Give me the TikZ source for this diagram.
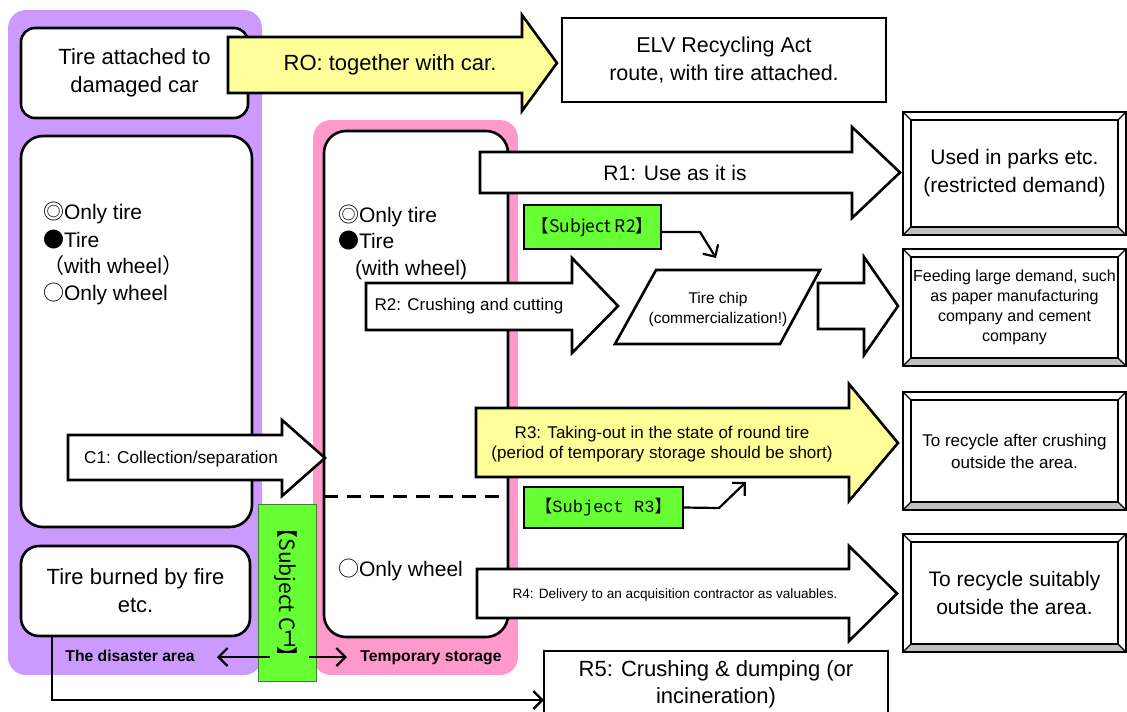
\documentclass[tikz,border=0pt]{standalone}
\usepackage{fontspec}
\usepackage{graphicx}
\setmainfont{Liberation Sans}
\newfontfamily\cjk{Noto Sans CJK JP}
\newfontfamily\monofont{Liberation Mono}
\usetikzlibrary{arrows.meta}
\definecolor{areapurple}{HTML}{CC99FF}
\definecolor{storepink}{HTML}{FF99CC}
\definecolor{subjgreen}{HTML}{66FF33}
\definecolor{subjedge}{HTML}{3F7F2F}
\definecolor{routeyellow}{HTML}{FFFF99}
\definecolor{bevelgray}{HTML}{C0C0C0}
\newcommand\ff[2]{\fontsize{#1}{#2}\selectfont}
% framed destination box with a bevelled border: name, x1, y1, x2, y2, font, text
\newcommand\bevelbox[7]{%
  \fill[white] (#2,#3) rectangle (#4,#5);
  \fill[bevelgray] (#2,#5) -- (#4,#5) -- ({#4-8},{#5-8}) -- ({#2+8},{#5-8}) -- cycle;
  \draw[line width=1.2pt] (#2,#3) -- ({#2+8},{#3+8}) (#4,#3) -- ({#4-8},{#3+8})
        (#2,#5) -- ({#2+8},{#5-8}) (#4,#5) -- ({#4-8},{#5-8});
  \draw[line width=2.6pt] ({#2+8},{#3+8}) rectangle ({#4-8},{#5-8});
  \draw[line width=2.6pt] (#2,#3) rectangle (#4,#5);
  \node[align=center, font=#6] (#1) at ({(#2+#4)/2},{(#3+#5)/2}) {#7};}
\begin{document}
\begin{tikzpicture}[x=1pt,y=-1pt,
  every node/.style={inner sep=0pt, outer sep=0pt},
  itembox/.style={draw, line width=2.6pt, fill=white},
  blockarrow/.style={draw, line width=2.6pt, line join=miter, miter limit=10},
  subjbox/.style={draw, line width=2.6pt, fill=subjgreen},
  thinarrow/.style={line width=2.2pt, -{Straight Barb[length=9pt,width=18pt,line width=2.2pt]}},
  arealabel/.style={font=\bfseries\ff{15.7}{18}},
  listitem/.style={anchor=base west, font=\ff{21}{26}}]
\useasboundingbox (0,0) rectangle (1127,712);

% the two areas
\fill[areapurple, rounded corners=18pt] (8,10) rectangle (262,675);
\fill[storepink, rounded corners=18pt] (313,120) rectangle (518,675);

% boxes of the disaster area
\node[itembox, rounded corners=14pt, minimum width=227pt, minimum height=90pt,
      align=center, font=\ff{22}{28}] (attached) at (134.5,73) {Tire attached to\\damaged car};
\node[itembox, rounded corners=22pt, minimum width=231pt, minimum height=391pt] (sorted) at (136.5,331.5) {};
\node[itembox, rounded corners=18pt, minimum width=229pt, minimum height=90pt,
      align=center, font=\ff{22}{28}] (burned) at (135.5,591) {Tire burned by fire\\etc.};

\node[listitem] (la) at (43,219.5) {{\cjk ◎}Only tire};
\node[listitem] (lb) at (43,247.5) {{\cjk ●}Tire};
\node[listitem] (lc) at (43,273.5) {{\cjk （}with wheel{\cjk ）}};
\node[listitem] (ld) at (43,300.5) {{\cjk ○}Only wheel};

% temporary storage box
\node[itembox, rounded corners=22pt, minimum width=184pt, minimum height=506pt] (store) at (416,384) {};
\draw[line width=3pt, dash pattern=on 14pt off 9pt] (store.west |- 0,496) -- (505,496);
\node[listitem] (pa) at (338,222.5) {{\cjk ◎}Only tire};
\node[listitem] (pb) at (338,248.5) {{\cjk ●}Tire};
\node[listitem] (pc) at (355,275.5) {(with wheel)};
\node[listitem] (pd) at (338,576.5) {{\cjk ○}Only wheel};

% RO route
\draw[blockarrow, fill=routeyellow] (228,37) -- (522,37) -- (522,15) -- (557,63) -- (522,111) -- (522,93) -- (228,93) -- cycle;
\node[font=\ff{22}{28}] (ro) at (390,65) {RO: together with car.};
\node[itembox, minimum width=324pt, minimum height=84pt, align=center, font=\ff{21.5}{28}] (elv) at (724,60) {ELV Recycling Act\\route, with tire attached.};

% R1
\draw[blockarrow, fill=white] (480,152) -- (852,152) -- (852,127) -- (900,172.5) -- (852,218) -- (852,193) -- (480,193) -- cycle;
\node[font=\ff{21}{26}] (r1) at (675,172.5) {R1: Use as it is};
\bevelbox{parks}{903}{112}{1126}{235}{\ff{21}{28}}{Used in parks etc.\\(restricted demand)}

% R2
\draw[blockarrow, fill=white] (366,283) -- (572,283) -- (572,258) -- (618,306) -- (572,353) -- (572,330) -- (366,330) -- cycle;
\node[font=\ff{17}{20}] (r2) at (469,306.5) {R2: Crushing and cutting};
\draw[line width=2.6pt, line join=miter, fill=white] (656,270) -- (820,270) -- (780,344) -- (615,344) -- cycle;
\node[align=center, font=\ff{15.5}{20}] (chip) at (718,309) {Tire chip\\(commercialization!)};
\draw[blockarrow, fill=white] (818,283) -- (864,283) -- (864,257) -- (898,306) -- (864,355) -- (864,329) -- (818,329) -- cycle;
\bevelbox{feed}{903}{249}{1126}{366}{\ff{16}{20}}{Feeding large demand, such\\as paper manufacturing\\company and cement\\company}

\node[subjbox, minimum width=137pt, minimum height=44pt, font=\cjk\ff{17.5}{20}] (subjR2) at (592.5,227) {【Subject R2】};
\coordinate (r2bend) at (700,232);
\coordinate (r2tip) at (716,258);
\draw[thinarrow, line join=miter] ([yshift=-5pt]subjR2.east) -- (r2bend) -- (r2tip);

% R3
\draw[blockarrow, fill=routeyellow] (476,408) -- (849,408) -- (849,384) -- (898,443) -- (849,501) -- (849,477) -- (476,477) -- cycle;
\node[align=center, font=\ff{17}{19.5}] (r3) at (662,444) {R3: Taking-out in the state of round tire\\(period of temporary storage should be short)};
\bevelbox{crush}{903}{392}{1126}{510}{\ff{17}{22}}{To recycle after crushing\\outside the area.}
\node[subjbox, minimum width=159pt, minimum height=41pt, font=\ff{17}{20}] (subjR3) at (603.5,507.5) {{\cjk 【}{\monofont Subject R3}{\cjk 】}};
\coordinate (r3bend) at (719,508);
\coordinate (r3tip) at (746,482);
\draw[thinarrow, line join=miter] (subjR3.east) -- (r3bend) -- (r3tip);

% R4
\draw[blockarrow, fill=white] (477,569) -- (849,569) -- (849,546) -- (897,593.5) -- (849,641) -- (849,618) -- (477,618) -- cycle;
\node[font=\ff{13.6}{15}] (r4) at (675,595) {R4: Delivery to an acquisition contractor as valuables.};
\bevelbox{suit}{903}{534}{1126}{652}{\ff{21}{28}}{To recycle suitably\\outside the area.}

% R5
\node[itembox, minimum width=344pt, minimum height=66pt, align=center, font=\ff{22}{27}] (r5) at (716,684) {R5: Crushing \& dumping (or\\incineration)};
\draw[line width=2.4pt, -{Straight Barb[length=9pt,width=18pt,line width=2.4pt]}]
  ([xshift=31pt]burned.south west) |- ([yshift=-16pt]r5.west);

% C1
\draw[blockarrow, fill=white] (68,435) -- (282,435) -- (282,420) -- (325,458) -- (282,496) -- (282,480) -- (68,480) -- cycle;
\node[font=\ff{17.2}{20}] (c1) at (181,459) {C1: Collection/separation};

% subject C1 and the area labels
\node[draw=subjedge, line width=0.8pt, fill=subjgreen, minimum width=177pt, minimum height=58pt,
      rotate=-90, font=\cjk\ff{21}{24}] (subjC1) at (287,592.5) {【Subject C\rotatebox{90}{１}】};
\node[arealabel] (areaname) at (130,656) {The disaster area};
\node[arealabel] (storename) at (431,658) {Temporary storage};
\coordinate (c1from) at (270,657);
\coordinate (c1to) at (309,657);
\coordinate (areaend) at (217,657);
\coordinate (storeend) at (347,657);
\draw[thinarrow] (c1from) -- (areaend);
\draw[thinarrow] (c1to) -- (storeend);
\end{tikzpicture}
\end{document}
